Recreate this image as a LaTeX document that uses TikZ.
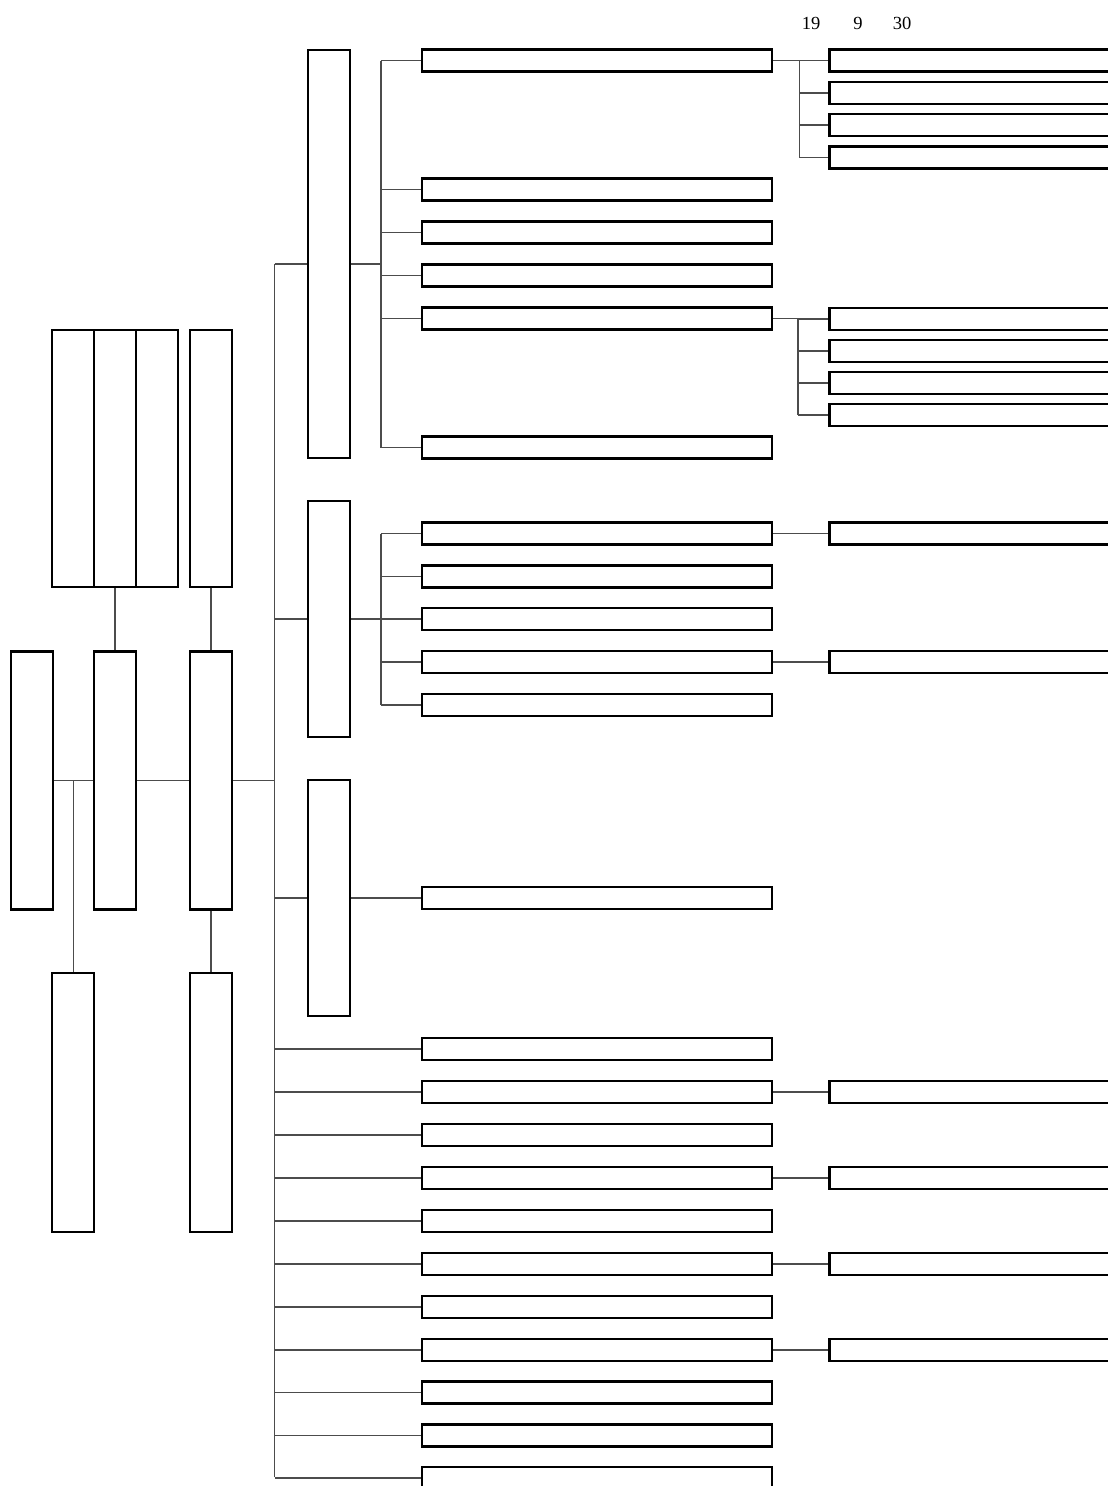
\documentclass[tikz,border=0pt]{standalone}
\usepackage{fontspec}
\setmainfont{Liberation Serif}
\begin{document}
\begin{tikzpicture}[x=1pt,y=-1pt,
  bx/.style={draw=black,line width=2.2pt,fill=white,inner sep=0pt,rectangle},
  tall/.style={bx,minimum width=42pt},
  wide/.style={bx,minimum width=350pt,minimum height=22pt},
  subbox/.style={bx,minimum width=300pt,minimum height=22pt},
  cn/.style={draw=black!70,line width=1.1pt},
  lbl/.style={font=\fontsize{18.5}{20}\selectfont,inner sep=0pt,anchor=base}]
\clip (0,0) rectangle (1108,1486);
\fill[white] (0,0) rectangle (1108,1486);

% labels
\node[lbl] (n19) at (811,29.3) {19};
\node[lbl] (n9) at (858,29.3) {9};
\node[lbl] (n30) at (902,29.3) {30};

% left structure
\node[tall,minimum height=258pt] (L1) at (31.7,780.5) {};
\node[tall,minimum height=258pt] (L2) at (115,780.5) {};
\node[tall,minimum height=258pt] (L3) at (211,780.5) {};
\node[tall,minimum height=257pt] (G1) at (73.2,458.2) {};
\node[tall,minimum height=257pt] (G2) at (115,458.2) {};
\node[tall,minimum height=257pt] (G3) at (157.2,458.2) {};
\node[tall,minimum height=257pt] (T) at (211,458.2) {};
\node[tall,minimum height=258.7pt] (B1) at (73.2,1102.6) {};
\node[tall,minimum height=258.7pt] (B2) at (211,1102.6) {};

\draw[cn] (L1.east) -- (L2.west);
\draw[cn] (B1.north) -- (B1.north |- L1.east);
\draw[cn] (L2.east) -- (L3.west);
\draw[cn] (G2.south) -- (L2.north);
\draw[cn] (T.south) -- (L3.north);
\draw[cn] (L3.south) -- (B2.north);

% trunk
\coordinate (ta) at (274.5,264);
\coordinate (tz) at (274.5,1477);
\draw[cn] (ta) -- (tz);
\draw[cn] (L3.east) -- (L3.east -| ta);

% level 2
\node[tall,minimum height=408pt] (A) at (329,254) {};
\node[tall,minimum height=236pt] (B) at (329,619) {};
\node[tall,minimum height=236pt] (C) at (329,898) {};
\draw[cn] (ta) -- (ta -| A.west);
\draw[cn] (ta |- B.west) -- (B.west);
\draw[cn] (ta |- C.west) -- (C.west);

% A children
\coordinate (busA) at (381,264);
\foreach \i/\y in {1/60.5,2/189.5,3/232.5,4/275.5,5/318.5,6/447.5}{
  \node[wide] (a\i) at (597,\y) {};
  \draw[cn] (busA |- a\i.west) -- (a\i.west);
}
\draw[cn] (A.east |- busA) -- (busA);
\draw[cn] (busA |- a1.west) -- (busA |- a6.west);

% B children
\coordinate (busB) at (381,619);
\foreach \i/\y in {1/533.5,2/576.5,3/619,4/662,5/705}{
  \node[wide] (b\i) at (597,\y) {};
  \draw[cn] (busB |- b\i.west) -- (b\i.west);
}
\draw[cn] (B.east) -- (busB);
\draw[cn] (busB |- b1.west) -- (busB |- b5.west);

% C child
\node[wide] (c1) at (597,898) {};
\draw[cn] (C.east) -- (c1.west);

% trunk children
\foreach \i/\y in {1/1049,2/1092,3/1135,4/1178,5/1221,6/1264,7/1307,8/1350,9/1392.5,10/1435.5,11/1478}{
  \node[wide] (t\i) at (597,\y) {};
  \draw[cn] (ta |- t\i.west) -- (t\i.west);
}

% sub groups
\coordinate (busS1) at (799.5,60.5);
\foreach \i/\y in {1/60.5,2/93,3/125,4/157.5}{
  \node[subbox] (s\i) at (979.5,\y) {};
  \draw[cn] (busS1 |- s\i.west) -- (s\i.west);
}
\draw[cn] (a1.east) -- (busS1);
\draw[cn] (busS1 |- s1.west) -- (busS1 |- s4.west);

\coordinate (busS2) at (798,318.5);
\foreach \i/\y in {1/319,2/351,3/383,4/415}{
  \node[subbox] (r\i) at (979.5,\y) {};
  \draw[cn] (busS2 |- r\i.west) -- (r\i.west);
}
\draw[cn] (a5.east) -- (busS2);
\draw[cn] (busS2 |- r1.west) -- (busS2 |- r4.west);

\node[subbox] (u1) at (979.5,533.5) {};
\draw[cn] (b1.east) -- (u1.west);
\node[subbox] (u2) at (979.5,662) {};
\draw[cn] (b4.east) -- (u2.west);

\node[subbox] (v1) at (979.5,1092) {};
\draw[cn] (t2.east) -- (v1.west);
\node[subbox] (v2) at (979.5,1178) {};
\draw[cn] (t4.east) -- (v2.west);
\node[subbox] (v3) at (979.5,1264) {};
\draw[cn] (t6.east) -- (v3.west);
\node[subbox] (v4) at (979.5,1350) {};
\draw[cn] (t8.east) -- (v4.west);
\end{tikzpicture}
\end{document}
